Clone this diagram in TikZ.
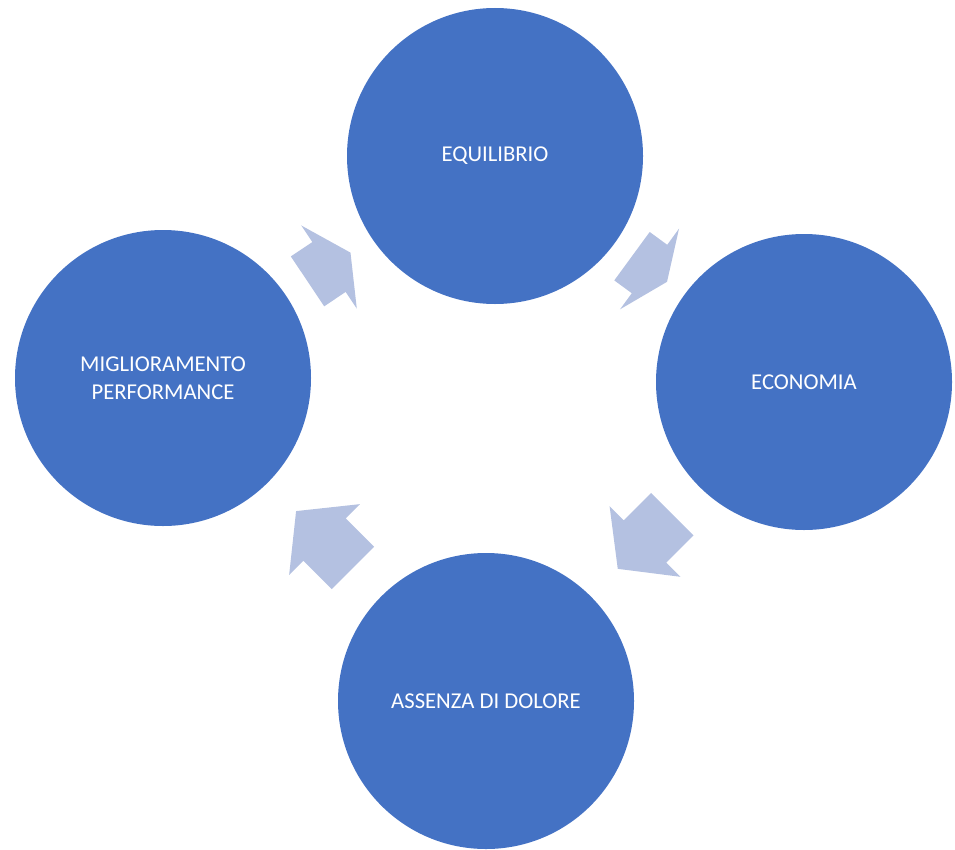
\documentclass[tikz,border=0pt]{standalone}
\usepackage{fontspec}
\setmainfont{Carlito}
\usetikzlibrary{calc}
\definecolor{circblue}{HTML}{4472C4}
\definecolor{arrblue}{HTML}{B4C1E1}
\newcommand\cyclearrow[2]{%
  \path let \p1=(#1.center), \p2=(#2.center) in
    \pgfextra{%
      \pgfmathsetmacro\arrang{atan2(\y2-\y1,\x2-\x1)}%
      \pgfmathsetmacro\arrh{0.25*(veclen(\x2-\x1,\y2-\y1)-222)}%
      \xdef\arrang{\arrang}\xdef\arrh{\arrh}};
  \fill[cycarrow, shift={($(#1.center)!0.5!(#2.center)$)}, rotate=\arrang]
    (-\arrh pt,-22.5pt) -- (0pt,-22.5pt) -- (0pt,-37.5pt) -- (\arrh pt,0pt)
    -- (0pt,37.5pt) -- (0pt,22.5pt) -- (-\arrh pt,22.5pt) -- cycle;
}
\begin{document}
\begin{tikzpicture}[x=0.75pt,y=-0.75pt,
  stage/.style={circle, fill=circblue, minimum size=222pt, inner sep=0pt,
    text=white, font=\fontsize{17}{21}\selectfont, align=center},
  cycarrow/.style={fill=arrblue}]
\useasboundingbox (0,0) rectangle (955,849);
\node[stage] (equ) at (495,156) {EQUILIBRIO};
\node[stage] (eco) at (804,382) {ECONOMIA};
\node[stage] (ass) at (486,701) {ASSENZA DI DOLORE};
\node[stage] (mig) at (163,378) {MIGLIORAMENTO\\PERFORMANCE};
\cyclearrow{mig}{equ}
\cyclearrow{equ}{eco}
\cyclearrow{eco}{ass}
\cyclearrow{ass}{mig}
\end{tikzpicture}
\end{document}
